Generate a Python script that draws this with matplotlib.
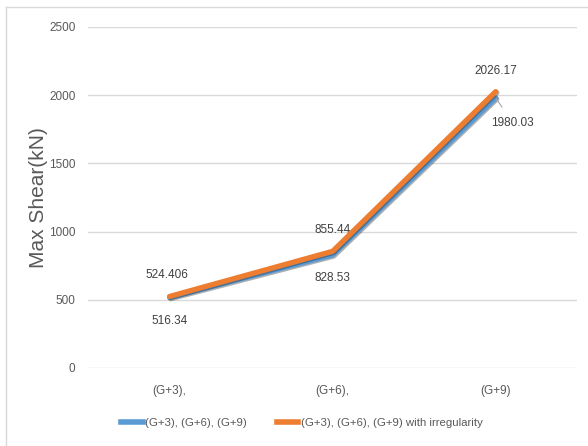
import matplotlib
matplotlib.use("Agg")
from matplotlib import pyplot as plt
import matplotlib.patheffects as pe
from matplotlib.lines import Line2D

plt.rcParams['font.family'] = ['Liberation Sans', 'DejaVu Sans']

categories = ["(G+3),", "(G+6),", "(G+9)"]
regular = [516.34, 828.53, 1980.03]
irregular = [524.406, 855.44, 2026.17]
regular_labels = ["516.34", "828.53", "1980.03"]
irregular_labels = ["524.406", "855.44", "2026.17"]
series_names = ["(G+3), (G+6), (G+9)", "(G+3), (G+6), (G+9) with irregularity"]

blue = "#5B9BD5"
orange = "#ED7D31"
grey = "#595959"

fig = plt.figure(figsize=(5.88, 4.46), dpi=100)
ax = fig.add_axes([0.1497, 0.1749, 0.832, 0.7646])

x = [0, 1, 2]
shadow = [pe.SimpleLineShadow(offset=(0.8, -0.8), shadow_color="#202020", alpha=0.35), pe.Normal()]
ax.plot(x, regular, color=blue, lw=3.8, solid_capstyle="round", path_effects=shadow, zorder=3)
ax.plot(x, irregular, color=orange, lw=3.8, solid_capstyle="round", path_effects=shadow, zorder=4)

ax.set_xlim(-0.5, 2.5)
ax.set_ylim(0, 2500)
ax.set_yticks([0, 500, 1000, 1500, 2000, 2500])
ax.set_xticks(x)
ax.set_xticklabels(categories)
ax.grid(axis="y", color="#d9d9d9", lw=1)
ax.set_axisbelow(True)
for s in ax.spines.values():
    s.set_visible(False)
ax.tick_params(length=0, colors=grey, labelsize=8.5)
ax.tick_params(axis="y", pad=9)
ax.tick_params(axis="x", pad=12)
ax.set_ylabel("Max Shear(kN)", fontsize=15, color=grey, labelpad=1)

for i in range(3):
    ax.annotate(irregular_labels[i], (x[i], irregular[i]), xytext=(-3 if i == 0 else 0, 21),
                textcoords="offset pixels", ha="center", va="center", fontsize=8.5, color="#404040")
for i in range(2):
    ax.annotate(regular_labels[i], (x[i], regular[i]), xytext=(0, -23),
                textcoords="offset pixels", ha="center", va="center", fontsize=8.5, color="#404040")
ax.annotate(regular_labels[2], (x[2], regular[2]), xytext=(17, -25),
            textcoords="offset pixels", ha="center", va="center", fontsize=8.5, color="#404040",
            arrowprops=dict(arrowstyle="-", color="#a6a6a6", lw=0.8, shrinkA=6, shrinkB=1))

handles = [Line2D([], [], color=blue, lw=4), Line2D([], [], color=orange, lw=4)]
fig.legend(handles, series_names, loc="center", bbox_to_anchor=(302 / 588, 1 - 423 / 446),
           ncol=2, frameon=False, fontsize=8.2, handlelength=1.9, handletextpad=0.2,
           columnspacing=2.6, labelcolor=grey)

fig.add_artist(Line2D([6 / 588, 1], [1 - 7 / 446, 1 - 7 / 446], color="#d9d9d9", lw=1))
fig.add_artist(Line2D([6 / 588, 6 / 588], [0, 1 - 7 / 446], color="#d9d9d9", lw=1))

fig.savefig("out.png", dpi=100)
